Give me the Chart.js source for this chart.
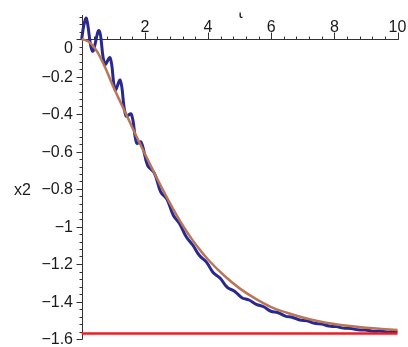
<!DOCTYPE html>
<html><head><meta charset="utf-8">
<script src="https://cdn.jsdelivr.net/npm/chart.js@4"></script>
<style>html,body{margin:0;padding:0;background:#fff;overflow:hidden}</style>
</head><body>
<canvas id="c" width="408" height="347"></canvas>
<script>
// ---- data ----
const xTickValues = [2, 4, 6, 8, 10];
const xTickLabels = ['2', '4', '6', '8', '10'];
const yTickValues = [0, -0.2, -0.4, -0.6, -0.8, -1, -1.2, -1.4, -1.6];
const yTickLabels = ['0', '−0.2', '−0.4', '−0.6', '−0.8', '−1', '−1.2', '−1.4', '−1.6'];
const xAxisTitle = 't';
const yAxisTitle = 'x2';

const blueX = [0, 0.07, 0.15, 0.34, 0.55, 0.73, 0.90, 1.06, 1.22, 1.40, 1.57, 1.74, 1.88, 2.09, 2.30, 2.50, 2.70, 2.90, 3.10, 3.31, 3.52, 3.73, 3.95, 4.16, 4.38, 4.61, 4.84, 5.07, 5.30, 5.53, 5.76, 5.99, 6.22, 6.45, 6.68, 6.91, 7.14, 7.37, 7.60, 7.83, 8.06, 8.29, 8.52, 8.75, 8.98, 9.21, 9.44, 9.67, 9.90, 10.0];
const blueY = [0, 0.075, 0.11, -0.065, 0.045, -0.135, -0.10, -0.27, -0.22, -0.41, -0.40, -0.555, -0.55, -0.675, -0.715, -0.815, -0.855, -0.94, -0.985, -1.055, -1.10, -1.155, -1.19, -1.245, -1.275, -1.325, -1.345, -1.38, -1.392, -1.415, -1.428, -1.452, -1.46, -1.478, -1.485, -1.499, -1.503, -1.516, -1.52, -1.531, -1.534, -1.542, -1.544, -1.551, -1.552, -1.558, -1.558, -1.562, -1.561, -1.562];

const brownX = [0, 0.25, 0.5, 0.75, 1, 1.25, 1.5, 1.75, 2, 2.25, 2.5, 2.75, 3, 3.25, 3.5, 3.75, 4, 4.5, 5, 5.5, 6, 6.5, 7, 7.5, 8, 8.5, 9, 9.5, 10];
const brownY = [0, -0.018, -0.07, -0.155, -0.255, -0.345, -0.435, -0.525, -0.612, -0.698, -0.782, -0.862, -0.938, -1.008, -1.07, -1.126, -1.176, -1.26, -1.33, -1.385, -1.43, -1.46, -1.485, -1.505, -1.52, -1.531, -1.54, -1.546, -1.552];

const redX = [0, 10];
const redY = [-1.5708, -1.5708];

const toPts = (xs, ys) => xs.map((x, i) => ({x: x, y: ys[i]}));
const FONT = '16px "Liberation Sans", Arial, sans-serif';

const axesPlugin = {
  id: 'mapleAxes',
  beforeDatasetsDraw(chart) {
    const ctx = chart.ctx, xs = chart.scales.x, ys = chart.scales.y;
    const x0 = Math.round(xs.getPixelForValue(0)) + 0.5;
    const y0 = Math.round(ys.getPixelForValue(0)) + 0.5;
    ctx.save();
    ctx.strokeStyle = '#333';
    ctx.lineWidth = 1;
    ctx.beginPath();
    ctx.moveTo(x0, y0); ctx.lineTo(xs.getPixelForValue(xs.max) + 1, y0);
    ctx.moveTo(x0, ys.top); ctx.lineTo(x0, ys.bottom);
    // x minor ticks
    for (let v = 0.4; v <= xs.max + 1e-9; v += 0.4) {
      const px = Math.round(xs.getPixelForValue(v)) + 0.5;
      ctx.moveTo(px, y0); ctx.lineTo(px, y0 - 3);
    }
    xTickValues.forEach(v => {
      const px = Math.round(xs.getPixelForValue(v)) + 0.5;
      ctx.moveTo(px, y0); ctx.lineTo(px, y0 - 7);
    });
    // y minor ticks
    for (let k = 0; ; k++) {
      const v = ys.max - 0.008 - k * 0.04;
      const vv = Math.round((0.12 - k * 0.04) * 100) / 100;
      if (vv < ys.min - 1e-9) break;
      const py = Math.round(ys.getPixelForValue(vv)) + 0.5;
      ctx.moveTo(x0, py); ctx.lineTo(x0 - 3, py);
    }
    yTickValues.forEach(v => {
      const py = Math.round(ys.getPixelForValue(v)) + 0.5;
      ctx.moveTo(x0, py); ctx.lineTo(x0 - 6, py);
    });
    ctx.stroke();

    ctx.fillStyle = '#1a1a1a';
    ctx.font = FONT;
    ctx.textAlign = 'center';
    ctx.textBaseline = 'alphabetic';
    xTickValues.forEach((v, i) => {
      ctx.fillText(xTickLabels[i], xs.getPixelForValue(v), y0 - 8);
    });
    ctx.textAlign = 'right';
    ctx.textBaseline = 'middle';
    yTickValues.forEach((v, i) => {
      let py = ys.getPixelForValue(v);
      if (v === 0) py += 8.5;
      ctx.fillText(yTickLabels[i], x0 - 9.5, py + 1);
    });
    ctx.textAlign = 'left';
    ctx.fillText(yAxisTitle, 14, ys.getPixelForValue(-0.8) + 1.5);
    // clipped horizontal axis title
    ctx.save();
    ctx.beginPath(); ctx.rect(220, 12.5, 50, 10); ctx.clip();
    ctx.textAlign = 'center'; ctx.textBaseline = 'alphabetic';
    ctx.fillText(xAxisTitle, xs.getPixelForValue(5.03), 17.5);
    ctx.restore();
    ctx.restore();
  }
};

new Chart(document.getElementById('c'), {
  type: 'line',
  data: {
    datasets: [
      {data: toPts(blueX, blueY), borderColor: 'rgb(40,40,145)', borderWidth: 3, tension: 0.4, pointRadius: 0, fill: false, order: 3, clip: 6},
      {data: toPts(brownX, brownY), borderColor: 'rgb(185,118,88)', borderWidth: 2.5, cubicInterpolationMode: 'monotone', pointRadius: 0, fill: false, order: 2, clip: 6},
      {data: toPts(redX, redY), borderColor: 'rgb(235,30,35)', borderWidth: 2.5, tension: 0, pointRadius: 0, fill: false, order: 1, clip: 6}
    ]
  },
  options: {
    responsive: false,
    devicePixelRatio: 1,
    animation: false,
    events: [],
    layout: {padding: {left: 81.7, right: 10.5, top: 15, bottom: 8}},
    scales: {
      x: {type: 'linear', min: 0, max: 10, display: false},
      y: {type: 'linear', min: -1.6, max: 0.128, display: false}
    },
    plugins: {legend: {display: false}, tooltip: {enabled: false}}
  },
  plugins: [axesPlugin]
});
</script>
</body></html>
